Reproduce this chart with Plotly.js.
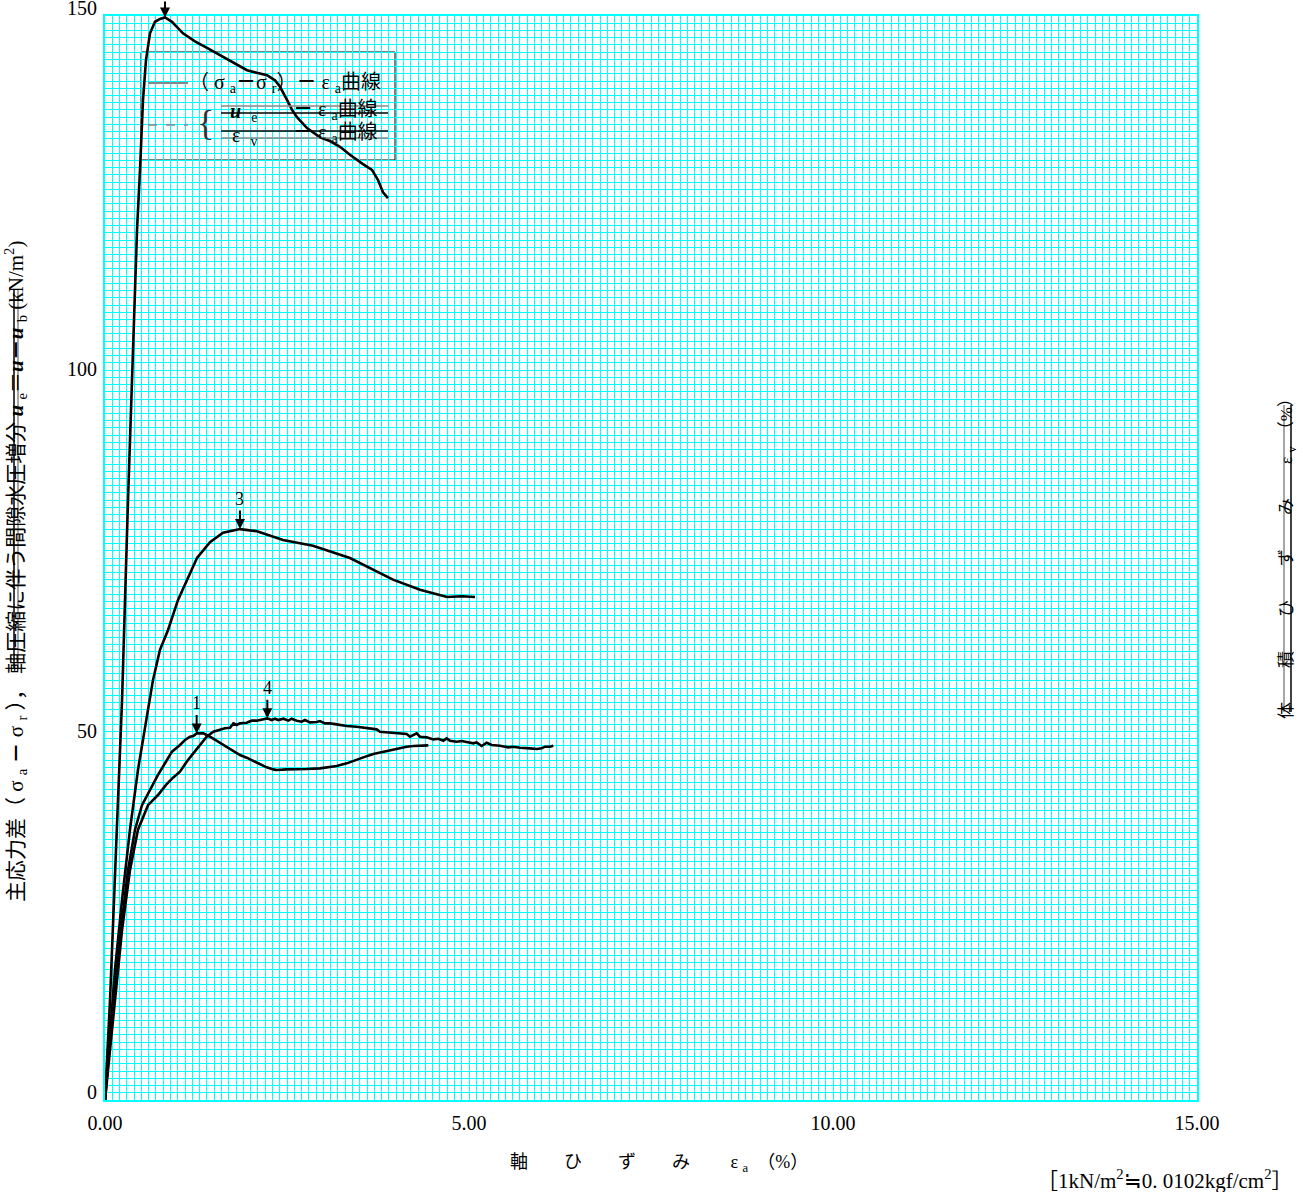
<!DOCTYPE html>
<html>
<head>
<meta charset="utf-8">
<script src="https://cdn.plot.ly/plotly-3.0.1.min.js"></script>
<style>html,body{margin:0;padding:0;background:#fff;}#chart{width:1303px;height:1192px;}</style>
</head>
<body>
<div id="chart"></div>
<script>
// ---- data (axial strain %, principal stress difference kN/m2) ----
const curve1X = [0,0.069,0.151,0.234,0.316,0.412,0.508,0.618,0.728,0.824,0.920,1.030,1.099,1.168,1.213,1.259,1.351,1.442,1.534,1.625,1.717,1.854,1.946,2.038,2.129,2.221,2.312,2.358,2.495,2.633,2.770,2.953,3.091,3.182,3.320,3.411,3.548,3.686,3.823,4.006,4.144,4.236,4.441];
const curve1Y = [0,8.3,16.6,24.9,31.8,37.4,40.8,42.9,45.0,46.6,48.2,49.12,49.81,50.27,50.36,50.73,50.73,50.27,49.72,49.12,48.52,47.74,47.37,46.95,46.49,46.03,45.75,45.66,45.75,45.75,45.80,45.89,46.03,46.21,46.58,46.95,47.41,47.87,48.20,48.66,48.89,48.98,49.07];

const curve2X = [0,0.069,0.151,0.234,0.316,0.385,0.440,0.481,0.522,0.563,0.618,0.687,0.755,0.824,0.920,1.071,1.236,1.401,1.580,1.758,1.951,2.100,2.225,2.335,2.404,2.500,2.569,2.637,2.775,2.953,3.090,3.228,3.365,3.544,3.668,3.750,3.819,3.887];
const curve2Y = [0,13.8,34.6,55.3,83.0,103.8,120.4,128.7,138.4,143.9,147.6,149.2,149.6,149.8,149.2,147.6,146.5,145.6,144.6,143.6,142.5,142.1,141.8,141.1,140.2,138.4,137.0,136.0,134.5,133.2,132.7,131.9,130.8,129.5,128.7,127.3,125.6,124.8];

const curve3X = [0,0.069,0.137,0.234,0.343,0.453,0.563,0.659,0.755,0.865,1.003,1.140,1.264,1.442,1.621,1.854,2.088,2.445,2.857,3.365,3.956,4.327,4.698,4.900,5.082];
const curve3Y = [0,9.7,18.0,27.7,37.4,45.7,52.6,58.1,62.3,65.0,69.2,72.2,75.0,77.2,78.5,79.0,78.7,77.5,76.7,75.0,72.0,70.6,69.6,69.7,69.6];

const curve4X = [0,0.069,0.151,0.234,0.343,0.453,0.591,0.728,0.838,0.934,1.030,1.122,1.213,1.305,1.397,1.488,1.580,1.648,1.717,1.763,1.809,1.854,1.946,2.015,2.083,2.152,2.230,2.289,2.335,2.381,2.450,2.518,2.564,2.633,2.701,2.747,2.816,2.908,2.953,3.022,3.091,3.182,3.320,3.457,3.594,3.732,3.777,3.915,4.006,4.144,4.190,4.281,4.327,4.419,4.510,4.579,4.647,4.693,4.739,4.831,4.899,4.968,5.060,5.105,5.174,5.243,5.311,5.426,5.540,5.609,5.700,5.838,5.930,5.998,6.044,6.113,6.158];
const curve4Y = [0,6.9,15.2,23.5,31.8,37.4,40.8,42.2,43.6,44.6,45.43,46.81,47.97,49.12,50.27,50.96,51.29,51.43,51.52,52.12,51.89,52.12,52.21,52.49,52.49,52.67,52.81,52.58,52.76,52.58,52.76,52.49,52.76,52.49,52.35,52.58,52.26,52.30,52.44,52.12,52.12,51.98,51.75,51.66,51.52,51.29,50.96,50.87,50.73,50.64,50.27,50.73,50.27,50.18,49.90,49.99,49.72,50.04,49.72,49.58,49.67,49.53,49.35,49.49,48.98,49.44,49.12,49.03,48.80,48.89,48.75,48.66,48.57,48.66,48.89,48.89,49.03];

const curveLabels = ['1','','3','4'];
const xTickVals = [0,5,10,15];
const xTickText = ['0.00','5.00','10.00','15.00'];
const yTickVals = [0,50,100,150];
const yTickText = ['0','50','100','150'];

// ---- layout helpers (pixel -> paper) ----
const L=105, R=1197, T=16, B=1100;
const PX = v => (v - L) / (R - L);
const PY = v => (B - v) / (B - T);
const FONT = 'Liberation Serif, "Noto Sans CJK JP", serif';

const series = [[curve1X,curve1Y],[curve2X,curve2Y],[curve3X,curve3Y],[curve4X,curve4Y]];
const traces = series.map(([x,y]) => ({
  x: x, y: y, type: 'scatter', mode: 'lines', xaxis: 'x', yaxis: 'y',
  line: {color: '#000', width: 2.6}, hoverinfo: 'skip', showlegend: false
}));
// empty trace so the labelled overlay x axis is drawn
traces.push({x: [], y: [], type: 'scatter', mode: 'lines', xaxis: 'x2', yaxis: 'y', showlegend: false, hoverinfo: 'skip'});

function peak(xs, ys){ const m = Math.max(...ys); const i = ys.indexOf(m); return [xs[i], ys[i]]; }

const annotations = [];
series.forEach(([x,y], k) => {
  const [px, py] = peak(x, y);
  annotations.push({x: px, y: py, xref: 'x', yref: 'y', text: curveLabels[k],
    showarrow: true, arrowhead: 2, arrowsize: 1, arrowwidth: 2, arrowcolor: '#000',
    ax: 0, ay: k === 1 ? -40 : -30, standoff: 0, font: {family: FONT, size: 18, color: '#000'}});
});

// y tick labels (sit just above their grid line, as in the reference)
yTickVals.forEach((v, i) => {
  annotations.push({x: PX(99), xref: 'paper', y: v, yref: 'y', text: yTickText[i],
    showarrow: false, xanchor: 'right', yanchor: 'bottom', yshift: -5,
    font: {family: FONT, size: 20, color: '#000'}});
});

function txt(text, x, y, opts){
  return Object.assign({text: text, x: PX(x), y: PY(y), xref: 'paper', yref: 'paper',
    showarrow: false, xanchor: 'left', yanchor: 'middle',
    font: {family: FONT, size: 20, color: '#000'}}, opts || {});
}

// legend texts
annotations.push(txt('（ σ <sub>a</sub><b>－</b>σ <sub>r</sub>）<b>－</b> ε <sub>a</sub>曲線', 187, 83));
annotations.push(txt('{', 205, 123, {xanchor: 'center', font: {family: FONT, size: 36, color: '#333'}}));
annotations.push(txt('<b><i>u</i></b>  <sub>e</sub>', 228, 112));
annotations.push(txt('<b>－</b> ε <sub>a</sub>曲線', 380, 110, {xanchor: 'right'}));
annotations.push(txt('ε  <sub>v</sub>', 230, 136));
annotations.push(txt('<b>－</b> ε <sub>a</sub>曲線', 380, 134, {xanchor: 'right'}));

// axis titles
annotations.push(txt('主応力差（ σ <sub>a</sub> <b>－</b> σ <sub>r</sub> ）， 軸圧縮に伴う間隙水圧増分 <b><i>u</i></b> <sub>e</sub>＝<b><i>u</i></b><b>－</b><b><i>u</i></b> <sub>b</sub> (kN/m<sup>2</sup>)',
  16, 572, {xanchor: 'center', textangle: -90, font: {family: FONT, size: 21, color: '#000'}}));
annotations.push(txt('体　　積　　ひ　　ず　　み　　ε <sub>v</sub>　（%）', 1288, 555, {xanchor: 'center', textangle: -90, font: {family: FONT, size: 17, color: '#000'}}));
annotations.push(txt('軸　　ひ　　ず　　み　　 ε <sub>a</sub>　（%）', 659, 1163, {xanchor: 'center', font: {family: FONT, size: 18, color: '#000'}}));
annotations.push(txt('［1kN/m<sup>2</sup>≒0. 0102kgf/cm<sup>2</sup>］', 1295, 1179, {xanchor: 'right', font: {family: FONT, size: 21, color: '#000'}}));

function seg(x0,y0,x1,y1,color,width,dash,layer){
  return {type: 'line', xref: 'paper', yref: 'paper', x0: PX(x0), y0: PY(y0), x1: PX(x1), y1: PY(y1),
    line: {color: color, width: width, dash: dash || 'solid'}, layer: layer || 'above'};
}

const shapes = [
  {type: 'rect', xref: 'paper', yref: 'paper', x0: PX(141), x1: PX(395), y0: PY(160), y1: PY(52),
   fillcolor: '#fff', line: {color: '#000', width: 1}, layer: 'between'},
  seg(148, 83, 188, 83, '#888', 2),
  seg(148, 125, 188, 125, '#888', 1.5, 'dash'),
  seg(221, 106, 388, 106, '#888', 1.5),
  seg(221, 113, 388, 113, '#000', 1.5),
  seg(221, 131, 388, 131, '#000', 1.5),
  seg(221, 138, 388, 138, '#888', 1.5),
  // strike-through on y titles
  seg(14, 290, 14, 668, '#000', 1.5),
  seg(18, 290, 18, 668, '#888', 1.5),
  seg(1284, 405, 1284, 712, '#888', 1.5),
  seg(1291, 405, 1291, 712, '#000', 1.5)
];

const gridColor = '#00ffff';
const layout = {
  width: 1303, height: 1192,
  margin: {l: L, r: 1303 - R, t: T, b: 1192 - B, pad: 0},
  paper_bgcolor: '#fff', plot_bgcolor: '#fff',
  font: {family: FONT, size: 20, color: '#000'},
  showlegend: false,
  // grid axes (carry the data)
  xaxis: {range: [0, 15], tickmode: 'linear', tick0: 0, dtick: 0.1, showticklabels: false,
    showgrid: true, gridcolor: gridColor, gridwidth: 1, zeroline: false,
    showline: true, linecolor: gridColor, linewidth: 2, mirror: true, ticks: ''},
  yaxis: {range: [0, 150], tickmode: 'linear', tick0: 0, dtick: 1, showticklabels: false,
    showgrid: true, gridcolor: gridColor, gridwidth: 1, zeroline: false,
    showline: true, linecolor: gridColor, linewidth: 2, mirror: true, ticks: ''},
  // labelled x axis
  xaxis2: {range: [0, 15], overlaying: 'x', anchor: 'y', side: 'bottom', tickmode: 'array',
    tickvals: xTickVals, ticktext: xTickText, showgrid: false, zeroline: false, showline: false,
    ticks: '', tickfont: {family: FONT, size: 20}, ticklabelstandoff: 9},
  annotations: annotations,
  shapes: shapes
};

Plotly.newPlot('chart', traces, layout, {staticPlot: true, displayModeBar: false});
</script>
</body>
</html>
